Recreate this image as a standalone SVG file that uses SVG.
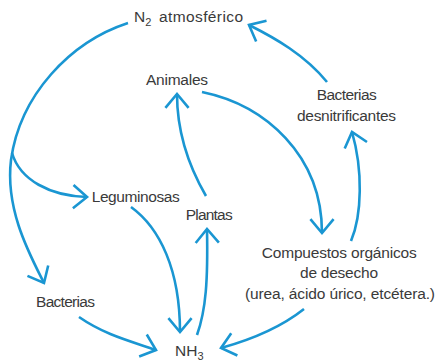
<svg xmlns="http://www.w3.org/2000/svg" width="439" height="362" viewBox="0 0 439 362">
  <style>
    .lbl { font-family: "Liberation Sans", Arial, sans-serif; font-size: 15.5px; fill: #3a3a3a; }
    .sub { font-size: 11px; }
    .con { fill: none; stroke: #1a96d2; stroke-width: 2.6; stroke-linecap: butt; marker-end: url(#chev); }
  </style>
  <defs>
    <marker id="chev" markerUnits="userSpaceOnUse" markerWidth="1" markerHeight="1" refX="0" refY="0" orient="auto" overflow="visible">
      <path d="M-13.8,-11.6 L0,0 L-13.8,11.6" fill="none" stroke="#1a96d2" stroke-width="2.6" stroke-linejoin="miter"/>
    </marker>
  </defs>
  <rect width="439" height="362" fill="#ffffff"/>

  <g id="connectors">
    <path class="con" d="M128,23 C70,42 20,95 11,160 C5,210 30,255 44,283"/>
    <path class="con" d="M12,153 C20,180 50,196 87,197"/>
    <path class="con" d="M131,207 C160,228 180,270 180,332"/>
    <path class="con" d="M197,335 C206,310 208,280 207,229"/>
    <path class="con" d="M206,196 C188,165 177,130 177,94"/>
    <path class="con" d="M202,92 C265,105 322,155 322,233"/>
    <path class="con" d="M351,241 C362,215 363,170 352,132"/>
    <path class="con" d="M327,82 C305,55 275,38 249,25"/>
    <path class="con" d="M79,317 C105,335 130,341 156,350"/>
    <path class="con" d="M304,309 C280,328 250,340 221,348"/>
  </g>

  <g id="n2">
    <text class="lbl" x="134" y="21.5">N<tspan class="sub" dy="4">2</tspan><tspan x="159" dy="-4" textLength="84">atmosférico</tspan></text>
  </g>
  <g id="animales">
    <text class="lbl" x="146" y="85" textLength="62">Animales</text>
  </g>
  <g id="bacterias-desnitrificantes">
    <text class="lbl" x="316.7" y="100" textLength="60">Bacterias</text>
    <text class="lbl" x="297" y="120.5" textLength="99">desnitrificantes</text>
  </g>
  <g id="leguminosas">
    <text class="lbl" x="91.7" y="201.7" textLength="88">Leguminosas</text>
  </g>
  <g id="plantas">
    <text class="lbl" x="185.7" y="220" textLength="47">Plantas</text>
  </g>
  <g id="bacterias">
    <text class="lbl" x="36" y="307" textLength="59">Bacterias</text>
  </g>
  <g id="compuestos">
    <text class="lbl" x="261.7" y="258.3" textLength="155">Compuestos orgánicos</text>
    <text class="lbl" x="300" y="278.3" textLength="78">de desecho</text>
    <text class="lbl" x="245" y="299" textLength="190">(urea, ácido úrico, etcétera.)</text>
  </g>
  <g id="nh3">
    <text class="lbl" x="175" y="356">NH<tspan class="sub" dy="4">3</tspan></text>
  </g>
</svg>
